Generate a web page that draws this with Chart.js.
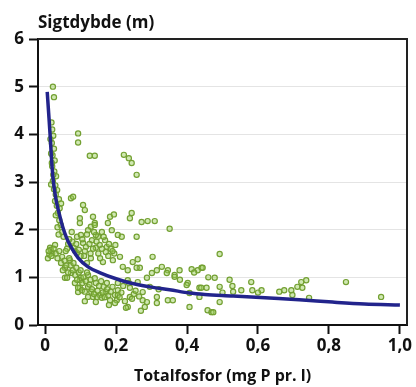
<!DOCTYPE html>
<html>
<head>
<meta charset="utf-8">
<script src="https://cdn.jsdelivr.net/npm/chart.js@4.4.1/dist/chart.umd.min.js"></script>
<style>
  body { margin: 0; background: #fff; }
</style>
</head>
<body>
<canvas id="myChart" width="416" height="387"></canvas>
<script>
// Totalfosfor (mg P pr. l) og sigtdybde (m) for de enkelte soer
const totalP = [
  0.022, 0.025, 0.093, 0.093, 0.126, 0.140, 0.222, 0.236, 0.244, 0.258,
  0.018, 0.020, 0.023, 0.019, 0.025, 0.021, 0.027, 0.020, 0.026, 0.031,
  0.022, 0.029, 0.034, 0.030, 0.039, 0.045, 0.041, 0.017,
  0.073, 0.079, 0.107, 0.112, 0.098, 0.135, 0.140, 0.129, 0.183, 0.177,
  0.194, 0.244, 0.239, 0.272, 0.289, 0.309, 0.351, 0.188, 0.205, 0.258, 0.216,
  0.014, 0.020, 0.008, 0.028, 0.012, 0.016,
  0.098, 0.140, 0.121, 0.090, 0.101, 0.149, 0.143, 0.169, 0.132, 0.107,
  0.154, 0.174, 0.115, 0.143, 0.171, 0.090, 0.070, 0.048, 0.129, 0.163,
  0.191, 0.056, 0.211, 0.247, 0.267, 0.233, 0.303, 0.261, 0.219, 0.258,
  0.329, 0.346, 0.379, 0.413, 0.430, 0.441, 0.301, 0.365, 0.343, 0.315,
  0.062, 0.077, 0.085, 0.110, 0.150, 0.118, 0.185, 0.198, 0.160, 0.075,
  0.068, 0.195,
  0.056, 0.073, 0.101, 0.121, 0.084, 0.098, 0.121, 0.143, 0.093, 0.135,
  0.154, 0.171, 0.197, 0.143, 0.183, 0.093, 0.104, 0.121, 0.146, 0.160,
  0.202, 0.205, 0.098, 0.062, 0.174, 0.205, 0.239, 0.205, 0.197, 0.233,
  0.228, 0.275, 0.281, 0.315, 0.346, 0.407, 0.407, 0.435, 0.239, 0.275,
  0.287, 0.365, 0.402, 0.295, 0.261, 0.233, 0.236, 0.399, 0.435, 0.458,
  0.469, 0.315, 0.360, 0.287, 0.130, 0.165, 0.112, 0.180, 0.250, 0.320,
  0.270,
  0.492, 0.444, 0.478, 0.581, 0.528, 0.553, 0.584, 0.610, 0.492, 0.474,
  0.492, 0.440, 0.455, 0.674, 0.694, 0.711, 0.722, 0.697, 0.736, 0.725,
  0.848, 0.947, 0.744, 0.530, 0.600, 0.500, 0.520, 0.460, 0.380, 0.420,
  0.660,
  0.045, 0.050, 0.055, 0.060, 0.065, 0.068, 0.072, 0.078, 0.080, 0.085,
  0.088, 0.090, 0.095, 0.100, 0.105, 0.108, 0.112, 0.115, 0.118, 0.125,
  0.128, 0.132, 0.138, 0.140, 0.148, 0.152, 0.158, 0.162, 0.168, 0.175,
  0.178, 0.185, 0.190, 0.210, 0.215, 0.220, 0.225, 0.245, 0.255, 0.265,
  0.058, 0.065, 0.080, 0.088, 0.095, 0.100, 0.105, 0.112, 0.118, 0.125,
  0.128, 0.135, 0.138, 0.145, 0.155, 0.160, 0.165, 0.178, 0.180, 0.190,
  0.015, 0.017, 0.019, 0.023, 0.025, 0.028, 0.033, 0.036, 0.040, 0.044,
  0.048, 0.052, 0.030, 0.035, 0.038,
  0.010, 0.018, 0.024, 0.030, 0.035, 0.040
];
const secchi = [
  5.00, 4.78, 4.02, 3.83, 3.55, 3.55, 3.57, 3.50, 3.40, 3.15,
  4.25, 4.10, 3.97, 3.82, 3.70, 3.56, 3.45, 3.33, 3.22, 3.12,
  3.02, 2.93, 2.83, 2.74, 2.64, 2.55, 2.45, 2.95,
  2.66, 2.69, 2.52, 2.41, 2.24, 2.27, 2.14, 2.06, 2.27, 2.14,
  2.32, 2.35, 2.24, 2.16, 2.18, 2.18, 2.02, 1.99, 1.89, 1.85, 1.85,
  1.62, 1.51, 1.40, 1.68, 1.48, 1.58,
  2.14, 2.10, 1.99, 1.85, 1.89, 1.85, 1.89, 1.78, 1.78, 1.72,
  1.68, 1.64, 1.64, 1.62, 1.53, 1.51, 1.36, 1.43, 1.40, 1.32,
  1.36, 1.20, 1.43, 1.32, 1.20, 1.15, 1.43, 1.38, 1.22, 1.20,
  1.22, 1.15, 1.15, 1.17, 1.15, 1.20, 1.09, 1.05, 1.09, 1.15,
  1.60, 1.75, 1.55, 1.45, 1.50, 1.30, 1.60, 1.68, 1.95, 1.95,
  1.80, 1.50,
  0.99, 1.09, 0.99, 1.05, 0.88, 0.78, 0.80, 0.88, 0.69, 0.59,
  0.63, 0.69, 0.63, 0.48, 0.52, 0.78, 0.73, 0.59, 0.59, 0.57,
  0.52, 0.73, 0.94, 0.99, 0.88, 0.88, 0.78, 0.63, 0.46, 0.38,
  0.36, 0.52, 0.38, 0.59, 0.52, 0.38, 0.67, 0.59, 0.59, 0.69,
  0.99, 1.01, 0.88, 0.80, 0.90, 0.94, 0.88, 0.84, 0.78, 0.31,
  0.27, 0.46, 0.52, 0.48, 0.70, 0.80, 0.50, 0.42, 0.65, 0.75,
  0.30,
  1.49, 1.20, 0.99, 0.90, 0.82, 0.73, 0.73, 0.73, 0.80, 0.27,
  0.48, 0.78, 0.78, 0.73, 0.73, 0.80, 0.90, 0.63, 0.94, 0.78,
  0.90, 0.59, 0.57, 0.70, 0.68, 0.68, 0.95, 1.00, 0.95, 1.10,
  0.70,
  1.30, 1.15, 1.35, 1.25, 1.10, 1.40, 1.25, 1.15, 1.30, 1.05,
  1.20, 0.95, 1.10, 1.15, 0.88, 1.00, 0.70, 0.92, 1.10, 0.85,
  0.95, 0.75, 0.65, 0.98, 0.72, 0.82, 0.92, 0.68, 0.58, 0.75,
  0.62, 0.70, 0.80, 0.58, 0.68, 0.82, 0.50, 0.55, 0.72, 0.60,
  1.55, 1.70, 1.62, 1.70, 1.58, 1.45, 1.80, 1.55, 1.90, 1.70,
  1.50, 1.60, 1.95, 1.75, 1.40, 1.60, 1.85, 1.45, 1.70, 1.55,
  3.90, 3.60, 3.40, 3.15, 2.85, 2.60, 2.50, 2.35, 2.20, 2.10,
  1.95, 1.85, 2.30, 2.05, 1.90,
  1.55, 1.45, 1.60, 1.50, 1.40, 1.55
];

// tilpasset kurve, aflaest fra figuren
const fitP = [0.006, 0.010, 0.014, 0.018, 0.022, 0.030, 0.040, 0.050, 0.060, 0.070,
              0.093, 0.121, 0.157, 0.200, 0.240, 0.295, 0.351, 0.407, 0.450, 0.530,
              0.620, 0.716, 0.810, 0.900, 1.000];
const fitSD = [4.89, 4.45, 4.00, 3.50, 3.10, 2.66, 2.33, 2.05, 1.84, 1.68,
               1.41, 1.22, 1.09, 0.97, 0.88, 0.80, 0.74, 0.67, 0.64, 0.61,
               0.57, 0.53, 0.48, 0.44, 0.42];

const xTicks = ['0', '0,2', '0,4', '0,6', '0,8', '1,0'];
const yTicks = ['0', '1', '2', '3', '4', '5', '6'];
const yTitle = 'Sigtdybde (m)';
const xTitle = 'Totalfosfor (mg P pr. l)';

const fontFam = "'Open Sans', 'Noto Sans', sans-serif";

const scatterPts = totalP.map((p, i) => ({ x: p, y: secchi[i] }));
const fitPts = fitP.map((p, i) => ({ x: p, y: fitSD[i] }));

// top- og hoejrekant af plotfeltet + y-titel over aksen
const frame = {
  id: 'frame',
  afterDraw(chart) {
    const { ctx, chartArea: a } = chart;
    ctx.save();
    ctx.strokeStyle = '#222';
    ctx.lineWidth = 2;
    ctx.beginPath();
    ctx.moveTo(a.left, a.top);
    ctx.lineTo(a.right, a.top);
    ctx.lineTo(a.right, a.bottom);
    ctx.stroke();
    ctx.fillStyle = '#111';
    ctx.font = "bold 17px " + fontFam;
    ctx.textBaseline = 'alphabetic';
    ctx.textAlign = 'left';
    ctx.fillText(yTitle, a.left, a.top - 11);
    ctx.restore();
  }
};

const ctx = document.getElementById('myChart');
const myChart = new Chart(ctx, {
  type: 'scatter',
  data: {
    datasets: [{
      type: 'line',
      data: fitPts,
      borderColor: '#22248c',
      borderWidth: 3.5,
      pointRadius: 0,
      fill: false,
      cubicInterpolationMode: 'monotone',
      order: 0
    }, {
      data: scatterPts,
      pointStyle: 'circle',
      pointRadius: 2.6,
      borderWidth: 1.2,
      borderColor: '#73a032',
      backgroundColor: 'rgba(150, 205, 85, 0.45)',
      order: 1
    }]
  },
  options: {
    responsive: false,
    animation: false,
    layout: { padding: { top: 39, right: 9, left: 0, bottom: 0 } },
    plugins: {
      legend: { display: false },
      tooltip: { enabled: false }
    },
    scales: {
      x: {
        type: 'linear',
        min: -0.02,
        max: 1.02,
        afterFit(scale) { scale.height = 62; },
        border: { color: '#111', width: 2 },
        grid: { drawOnChartArea: false, tickLength: 9, tickColor: '#111', tickWidth: 2 },
        ticks: {
          stepSize: 0.2,
          includeBounds: false,
          padding: 2,
          color: '#111',
          font: { family: fontFam, size: 17, weight: 'bold' },
          callback: (v, i) => xTicks[i]
        },
        title: {
          display: true,
          text: xTitle,
          color: '#111',
          padding: { top: 0, bottom: 1 },
          font: { family: fontFam, size: 16, weight: 'bold' }
        }
      },
      y: {
        min: 0,
        max: 6,
        afterFit(scale) { scale.width = 38; },
        border: { color: '#111', width: 2 },
        grid: {
          tickLength: 9,
          tickColor: '#111',
          tickWidth: 2,
          color: c => (c.tick && c.tick.value > 0 && c.tick.value < 6) ? '#e4e4e4' : 'rgba(0,0,0,0)'
        },
        ticks: {
          stepSize: 1,
          padding: 5,
          color: '#111',
          font: { family: fontFam, size: 17, weight: 'bold' },
          callback: (v, i) => yTicks[i]
        }
      }
    }
  },
  plugins: [frame]
});
</script>
</body>
</html>
